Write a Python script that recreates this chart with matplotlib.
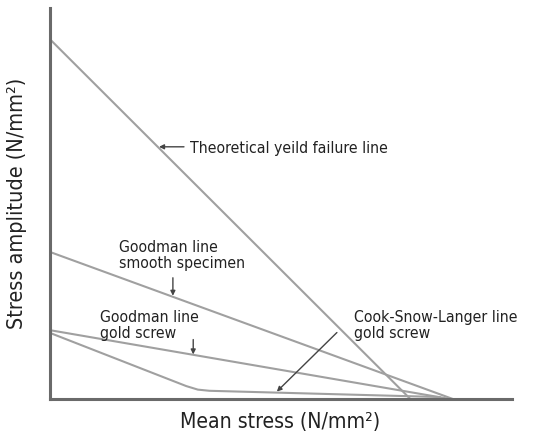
import matplotlib
matplotlib.use("Agg")
import matplotlib.pyplot as plt

# ---- data (arbitrary units) ----
theo_x = [0, 78]
theo_y = [92, 0]
good_smooth_x = [0, 87.2]
good_smooth_y = [37.6, 0]
good_gold_x = [0, 86.6]
good_gold_y = [17.6, 0]
csl_x = [0, 29.5, 32.0, 34.5, 84.4]
csl_y = [16.9, 3.3, 2.4, 2.1, 0.5]

labels = ["Theoretical yeild failure line",
          "Goodman line\nsmooth specimen",
          "Goodman line\ngold screw",
          "Cook-Snow-Langer line\ngold screw"]

FAM = ['Liberation Sans Narrow', 'DejaVu Sans']
plt.rcParams['font.family'] = FAM

fig = plt.figure(figsize=(5.47, 4.38), dpi=100)
ax = fig.add_axes([50/547, 1-399/438, (512-50)/547, (399-8)/438])
ax.set_xlim(0, 100)
ax.set_ylim(0, 100)

lc = '#a0a0a0'
lw = 1.5
for xs, ys in [(theo_x, theo_y), (good_smooth_x, good_smooth_y),
               (good_gold_x, good_gold_y), (csl_x, csl_y)]:
    ax.plot(xs, ys, color=lc, lw=lw, solid_capstyle='round',
            solid_joinstyle='round', clip_on=False)

for s in ['top', 'right']:
    ax.spines[s].set_visible(False)
for s in ['left', 'bottom']:
    ax.spines[s].set_color('#6a6a6a')
    ax.spines[s].set_linewidth(2.2)
ax.set_xticks([])
ax.set_yticks([])

tc = '#222222'
fs = 11.3
aprops = dict(arrowstyle='-|>', color='#444444', lw=1.0, mutation_scale=7,
              shrinkA=0, shrinkB=0)

ax.annotate('', xy=(23.6, 64.5), xytext=(29.0, 64.5), arrowprops=aprops)
ax.text(30.3, 64.0, labels[0], fontsize=fs, color=tc, va='center', ha='left',
        fontstretch='condensed')

ax.annotate('', xy=(26.6, 26.4), xytext=(26.6, 31.0), arrowprops=aprops)
ax.text(14.9, 36.6, labels[1], fontsize=fs, color=tc, va='center', ha='left',
        linespacing=1.08, fontstretch='condensed')

ax.annotate('', xy=(31.0, 11.4), xytext=(31.0, 15.2), arrowprops=aprops)
ax.text(10.8, 18.9, labels[2], fontsize=fs, color=tc, va='center', ha='left',
        linespacing=1.08, fontstretch='condensed')

ax.annotate('', xy=(49.1, 1.9), xytext=(62.1, 17.0), arrowprops=aprops)
ax.text(65.8, 18.9, labels[3], fontsize=fs, color=tc, va='center', ha='left',
        linespacing=1.08, fontstretch='condensed')

fig.text(280/547, 1-422/438, "Mean stress (N/mm²)", fontsize=15.2, color=tc,
         ha='center', va='center', fontstretch='condensed')
fig.text(17/547, 1-203/438, "Stress amplitude (N/mm²)", fontsize=15.5, color=tc,
         ha='center', va='center', rotation=90, fontstretch='condensed')

fig.savefig('out.png', dpi=100)
